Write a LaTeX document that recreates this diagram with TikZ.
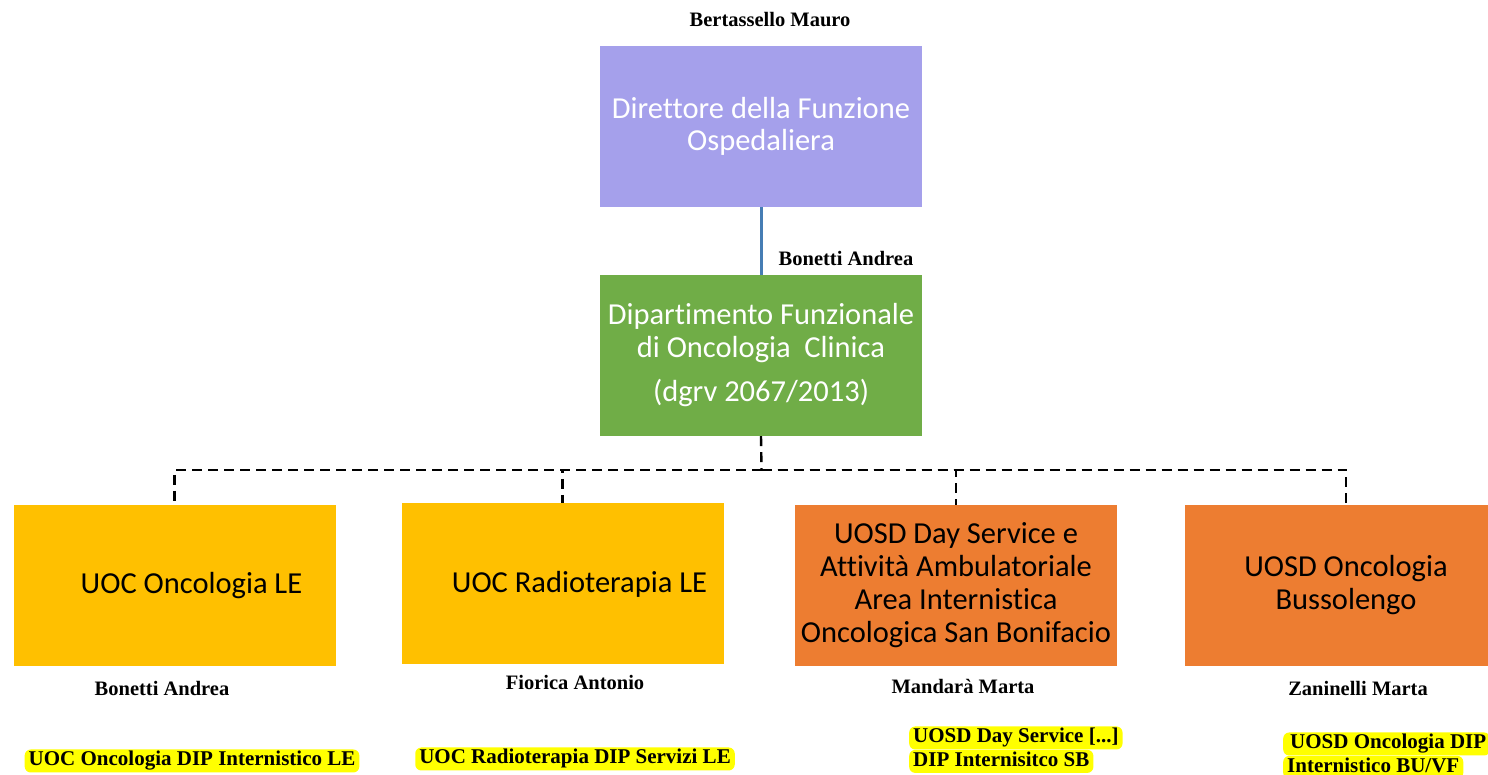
\documentclass[tikz,border=0pt]{standalone}
\usepackage{fontspec}
\usetikzlibrary{positioning}
\newfontfamily\boxfamily[Ligatures=CommonOff]{Carlito}
\newfontfamily\namefamily{Liberation Serif}
\begin{document}
\begin{tikzpicture}[x=1pt,y=1pt,
  unit/.style={minimum width=322pt,minimum height=161pt,inner sep=0pt,align=center,
    font=\boxfamily\fontsize{30.5}{33}\selectfont},
  head/.style={unit,text=white,font=\boxfamily\fontsize{30.5}{32.5}\selectfont},
  person/.style={inner sep=0pt,font=\namefamily\bfseries\fontsize{20.5}{24}\selectfont},
  hilite/.style={fill=hiColor,rounded corners=6pt,inner xsep=4pt,inner ysep=1.5pt,
    text height=15pt,text depth=5pt,font=\namefamily\bfseries\fontsize{21}{24}\selectfont},
  link/.style={draw=blackColor,line width=2.4pt,dash pattern=on 10pt off 6pt}]
\definecolor{purpleColor}{RGB}{165,160,235}
\definecolor{greenColor}{RGB}{112,173,71}
\definecolor{goldColor}{RGB}{255,192,0}
\definecolor{orangeColor}{RGB}{237,125,49}
\definecolor{lineColor}{RGB}{70,125,180}
\definecolor{hiColor}{RGB}{255,255,0}
\definecolor{blackColor}{RGB}{0,0,0}
\path[use as bounding box,fill=white] (0,0) rectangle (1488,775);

\node[head,fill=purpleColor] (dfo) at (761,648.5) {Direttore della Funzione\\Ospedaliera};
\node[head,fill=greenColor] (dip) at (761,419.5) {Dipartimento Funzionale\\di Oncologia\ \ Clinica\\[12pt](dgrv 2067/2013)};

\node[unit,fill=goldColor] (onc) at (174.5,189) {\hspace*{34pt}UOC Oncologia LE};
\node[unit,fill=goldColor] (rad) at (562.5,191) {\hspace*{34pt}UOC Radioterapia LE};
\node[unit,fill=orangeColor] (day) at (956,189.5) {UOSD Day Service e\\Attività Ambulatoriale\\Area Internistica\\Oncologica San Bonifacio};
\node[unit,fill=orangeColor] (bus) at (1346,189.5) {UOSD Oncologia\\Bussolengo};

\node[person] (nBertassello) at (770,755) {Bertassello Mauro};
\node[person] (nBonettiTop) at (846,517) {Bonetti Andrea};
\node[person] (nBonetti) at (162,87) {Bonetti Andrea};
\node[person] (nFiorica) at (575,93) {Fiorica Antonio};
\node[person] (nMandara) at (963,89) {Mandarà Marta};
\node[person] (nZaninelli) at (1358,87) {Zaninelli Marta};

\node[hilite] (hOnc) at (192,14) {UOC Oncologia DIP Internistico LE};
\node[hilite] (hRad) at (575,16) {UOC Radioterapia DIP Servizi LE};
\node[hilite,anchor=west] (hDayA) at (909,37) {UOSD Day Service [...]};
\node[hilite,below=0pt of hDayA.south west,anchor=north west] (hDayB) {DIP Internisitco SB};
\node[hilite,anchor=west] (hBusA) at (1283,31) {\hspace*{3pt}UOSD Oncologia DIP};
\node[hilite,below=0pt of hBusA.south west,anchor=north west] (hBusB) {Internistico BU/VF};

\path[draw=lineColor,line width=3pt] (dfo.south) -- (dip.north);

\coordinate (split) at (761.5,305);
\path[link] (dip.south) -- (split);
\path[link] (split) -| (onc.north);
\path[link] (split) -| (rad.north);
\path[link] (split) -| (day.north);
\path[link] (split) -| (bus.north);
\end{tikzpicture}
\end{document}
